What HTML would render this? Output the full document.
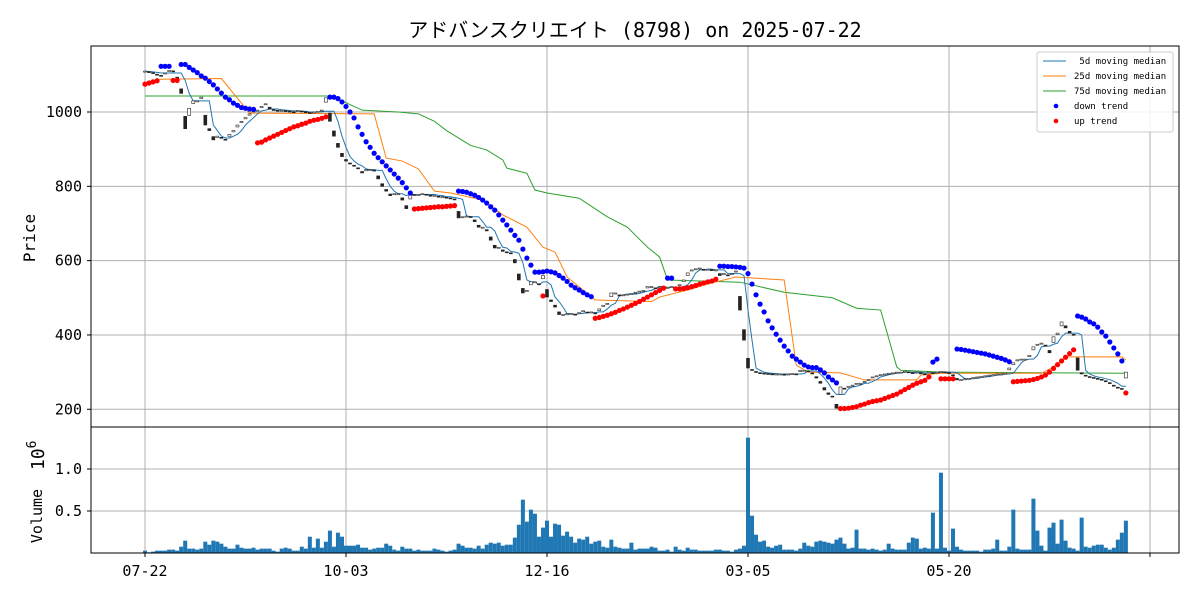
<!DOCTYPE html>
<html><head><meta charset="utf-8"><style>
html,body{margin:0;padding:0;background:#fff;}
svg{display:block;font-family:"DejaVu Sans Mono","Liberation Mono","Noto Sans CJK JP",monospace;}
</style></head><body>
<svg id="chart" width="1200" height="600" viewBox="0 0 1200 600" xmlns="http://www.w3.org/2000/svg">
<text x="635" y="37" font-size="20" text-anchor="middle" font-family="'DejaVu Sans Mono','Noto Sans CJK JP',monospace">アドバンスクリエイト (8798) on 2025-07-22</text>
<g id="grid"></g>
<g id="vol"></g>
<g id="lines"></g>
<g id="candles"></g>
<g id="dots"></g>
<rect x="91" y="46" width="1088" height="381" fill="none" stroke="#000" stroke-width="1"/>
<rect x="91" y="427" width="1088" height="126" fill="none" stroke="#000" stroke-width="1"/>
<g id="axes"></g>
<text transform="translate(35,238) rotate(-90)" font-size="16" text-anchor="middle">Price</text>
<text transform="translate(42,516) rotate(-90)" font-size="15" text-anchor="middle">Volume</text>
<text transform="translate(44,470) rotate(-90)" font-size="18">10<tspan dy="-8" font-size="13">6</tspan></text>
<g>
<rect x="1037" y="52" width="136" height="80" fill="#fff" fill-opacity="0.85" stroke="#ccc" rx="2"/>
<line x1="1043" y1="61" x2="1066" y2="61" stroke="#1f77b4" stroke-width="1"/>
<text x="1074" y="64" font-size="9">&#160;5d moving median</text>
<line x1="1043" y1="76" x2="1066" y2="76" stroke="#ff7f0e" stroke-width="1"/>
<text x="1074" y="79" font-size="9">25d moving median</text>
<line x1="1043" y1="91" x2="1066" y2="91" stroke="#2ca02c" stroke-width="1"/>
<text x="1074" y="94" font-size="9">75d moving median</text>
<circle cx="1056" cy="106" r="2.3" fill="#0000ff"/>
<text x="1074" y="109" font-size="9">down trend</text>
<circle cx="1056" cy="121" r="2.3" fill="#ff0000"/>
<text x="1074" y="124" font-size="9">up trend</text>
</g>
</svg>
<script>
const closes=[1110,1108,1105,1100,1098,1105,1112,1110,1085,1050,955,1010,1030,1030,1040,965,950,925,935,930,925,940,950,965,975,985,995,1003,1005,1015,1022,
1008,1006,1004,1005,1003,1002,1000,1004,1002,1000,998,1000,1002,1005,1038,975,935,905,880,868,860,855,847,836,845,845,843,820,800,787,775,780,780,763,740,780,
777,778,780,778,775,776,772,772,770,768,765,715,718,720,718,705,690,690,680,655,634,636,625,623,620,594,548,513,520,543,543,535,560,502,490,475,455,
455,457,458,455,460,465,460,462,458,470,480,485,513,513,505,508,510,512,515,518,520,530,530,525,530,525,528,530,528,535,548,567,575,578,580,575,577,575,575,
560,565,560,565,572,467,386,311,305,300,298,297,296,295,295,295,294,295,296,295,305,305,303,295,284,270,252,240,233,203,260,255,262,265,270,270,275,280,287,
290,293,295,297,298,300,300,302,300,298,300,297,295,300,298,300,302,300,298,290,279,280,282,283,285,287,288,290,292,293,295,295,297,311,325,333,335,335,345,
368,375,378,370,352,395,405,435,419,405,400,305,295,290,287,285,282,280,275,270,262,258,255,300];
const volumes=[0.028,0.008,0.016,0.028,0.028,0.028,0.04,0.04,0.028,0.075,
0.147,0.052,0.052,0.04,0.052,0.135,0.099,0.147,0.135,0.111,
0.075,0.052,0.052,0.099,0.063,0.052,0.052,0.063,0.04,0.052,
0.052,0.052,0.028,0.016,0.052,0.063,0.052,0.028,0.028,0.075,
0.052,0.194,0.063,0.171,0.063,0.135,0.266,0.075,0.242,0.194,
0.087,0.087,0.087,0.099,0.063,0.063,0.04,0.052,0.063,0.063,
0.111,0.087,0.04,0.028,0.075,0.052,0.052,0.028,0.04,0.028,
0.028,0.028,0.052,0.04,0.028,0.016,0.028,0.04,0.111,0.087,
0.063,0.063,0.052,0.087,0.052,0.099,0.123,0.111,0.123,0.087,
0.099,0.099,0.183,0.337,0.635,0.373,0.516,0.468,0.194,0.302,
0.385,0.194,0.349,0.337,0.206,0.254,0.194,0.123,0.171,0.159,
0.194,0.111,0.135,0.147,0.075,0.063,0.159,0.075,0.063,0.052,
0.052,0.123,0.04,0.052,0.052,0.052,
0.075,0.063,0.028,0.028,0.04,0.016,0.075,0.04,0.028,0.063,
0.04,0.04,0.028,0.028,0.028,0.028,0.04,0.04,0.028,0.028,
0.016,0.04,0.052,0.087,1.373,0.444,0.218,0.135,0.147,0.075,
0.063,0.087,0.099,0.04,0.04,0.04,0.028,0.052,0.123,0.087,
0.075,0.135,0.147,0.135,0.123,0.111,0.159,0.183,0.111,0.052,
0.063,0.278,0.052,0.052,0.04,0.052,0.04,0.028,0.04,0.111,
0.052,0.04,0.04,0.04,0.123,0.183,0.171,0.052,0.063,0.052,
0.48,0.052,0.956,0.063,0.028,0.29,0.075,0.04,0.028,0.028,
0.028,0.028,0.016,0.04,0.04,0.052,0.159,0.028,0.028,0.075,
0.516,0.052,0.04,0.04,0.04,0.647,0.266,0.087,0.028,0.302,
0.361,0.111,0.397,0.147,0.063,0.052,0.028,0.421,0.075,0.063,
0.087,0.099,0.099,0.063,0.04,0.063,0.159,0.242,0.385];
const med25Days=[0,4,19,26,57,60,64,68,72,76,84,89,95,99,102,105,112,126,128,135,141,147,159,162,165,173,179,192,193,198,223,226,229,243,244];
const med25Vals=[1075,1088,1090,997,995,876,868,847,787,782,763,723,690,636,623,556,494,490,502,521,540,556,548,319,300,298,279,279,292,297,297,314,341,341,333];
const med75Days=[0,46,49,54,63,68,72,75,81,85,89,90,95,97,100,108,115,120,125,128,130,148,159,171,177,183,187,188,198,244];
const med75Vals=[1043,1043,1030,1005,1000,995,975,950,910,898,871,849,835,790,782,768,718,690,636,610,548,542,515,500,472,467,314,305,300,297];
const downStarts=[4,9,46,78,130,143,196,202,232];
const downVals=[[1123,1123,1123],
[1128,1128,1120,1113,1106,1097,1091,1082,1073,1062,1051,1040,1033,1024,1018,1012,1010,1008,1007],
[1040,1040,1036,1027,1015,1000,984,960,940,920,905,889,877,866,855,844,833,822,810,796,782],
[787,786,784,780,776,770,763,755,745,736,723,709,696,682,668,655,631,607,588,569,569,570,572,570,567,560,553,544,534,527,521,514,508,503],
[553,553],
[585,585,584,584,583,582,580,565,537,508,483,462,438,419,402,386,370,357,343,335,327,319,314,312,312,306,298,287,279,271],
[327,335],
[362,361,359,357,355,353,351,349,346,343,340,337,333,328],
[451,448,443,435,430,421,408,397,381,365,349,330]];
const upStarts=[0,7,28,67,99,112,132,173,198,216,244];
const upVals=[[1075,1078,1081,1084],[1085,1085],
[917,919,925,930,935,940,945,950,955,960,963,967,970,975,978,980,983,987],
[739,740,741,742,743,744,745,745,746,747,748],
[505],
[445,447,450,453,457,461,466,470,475,480,485,490,496,502,508,514,520,526],
[524,524,525,527,530,533,537,540,543,545,550],
[202,202,203,205,207,211,214,218,221,223,225,229,233,237,241,247,253,259,265,270,274,278,287],
[282,282,282,282],
[274,275,276,277,278,280,283,287,292,300,310,320,330,340,350,360],
[244]];
const xTickDays=[0,50,100,150,200,250];
const xTickLabels=["07-22","10-03","12-16","03-05","05-20",""];
const priceTicks=[200,400,600,800,1000];
const volTicks=[0.5,1.0];
const volTickLabels=["0.5","1.0"];

const NS="http://www.w3.org/2000/svg";
const xS=i=>145+i*4.02;
const yP=v=>112+(1000-v)*0.3716;
const yV=m=>553-m*84;
function mk(tag,attrs,parent){const e=document.createElementNS(NS,tag);for(const k in attrs)e.setAttribute(k,attrs[k]);parent.appendChild(e);return e;}
const grid=document.getElementById('grid'),axes=document.getElementById('axes');
xTickDays.forEach((d,k)=>{
  const x=xS(d);
  const g1=mk('line',{x1:x,y1:46,x2:x,y2:427,stroke:'#b0b0b0','stroke-width':1},grid);
  
  
  const g2=mk('line',{x1:x,y1:427,x2:x,y2:553,stroke:'#b0b0b0','stroke-width':1},grid);
  
  
  mk('line',{x1:x,y1:553,x2:x,y2:557,stroke:'#000'},axes);
  const t=mk('text',{x:x,y:576,'font-size':15,'text-anchor':'middle'},axes);
  t.textContent=xTickLabels[k];
  
  
});
priceTicks.forEach(v=>{
  const y=yP(v);
  const g=mk('line',{x1:91,y1:y,x2:1179,y2:y,stroke:'#b0b0b0','stroke-width':1},grid);
  
  
  mk('line',{x1:87,y1:y,x2:91,y2:y,stroke:'#000'},axes);
  const t=mk('text',{x:82,y:y+5,'font-size':15,'text-anchor':'end'},axes);
  t.textContent=String(v);
  
  
});
volTicks.forEach((v,k)=>{
  const y=yV(v);
  const g=mk('line',{x1:91,y1:y,x2:1179,y2:y,stroke:'#b0b0b0','stroke-width':1},grid);
  
  
  mk('line',{x1:87,y1:y,x2:91,y2:y,stroke:'#000'},axes);
  const t=mk('text',{x:82,y:y+5,'font-size':15,'text-anchor':'end'},axes);
  t.textContent=volTickLabels[k];
  
  
});
const vol=document.getElementById('vol');
volumes.forEach((m,i)=>{
  const r=mk('rect',{x:xS(i)-2,y:yV(m),width:4,height:Math.max(0,553-yV(m)),fill:'#1f77b4'},vol);
  
  
});
const lines=document.getElementById('lines');
const med5=closes.map((c,i)=>{const w=closes.slice(Math.max(0,i-4),i+1).slice().sort((a,b)=>a-b);const n=w.length;return n%2?w[(n-1)/2]:(w[n/2-1]+w[n/2])/2;});
function poly(days,vals,color,name){
  const p=mk('polyline',{points:days.map((d,k)=>xS(d)+','+yP(vals[k])).join(' '),fill:'none',stroke:color,'stroke-width':1},lines);
  
  
}
poly(med75Days,med75Vals,'#2ca02c','median-75d-line');
poly(med25Days,med25Vals,'#ff7f0e','median-25d-line');
poly(closes.map((c,i)=>i),med5,'#1f77b4','median-5d-line');
const cg=document.getElementById('candles');
closes.forEach((c,i)=>{
  const prev=i>0?closes[i-1]:c;
  const o=c+(prev-c)*0.35;
  const top=yP(Math.max(o,c)),bot=yP(Math.min(o,c));
  const up=c>=prev;
  const r=mk('rect',{x:xS(i)-1.5,y:top,width:3,height:Math.max(1,bot-top),fill:up?'#fff':'#222',stroke:'#222','stroke-width':0.6},cg);
  
  
});
const dg=document.getElementById('dots');
downStarts.forEach((s,k)=>downVals[k].forEach((v,j)=>{
  const c=mk('circle',{cx:xS(s+j),cy:yP(v),r:2.6,fill:'#0000ff'},dg);
  
  
}));
upStarts.forEach((s,k)=>upVals[k].forEach((v,j)=>{
  const c=mk('circle',{cx:xS(s+j),cy:yP(v),r:2.6,fill:'#ff0000'},dg);
  
  
}));
</script>
</body></html>
